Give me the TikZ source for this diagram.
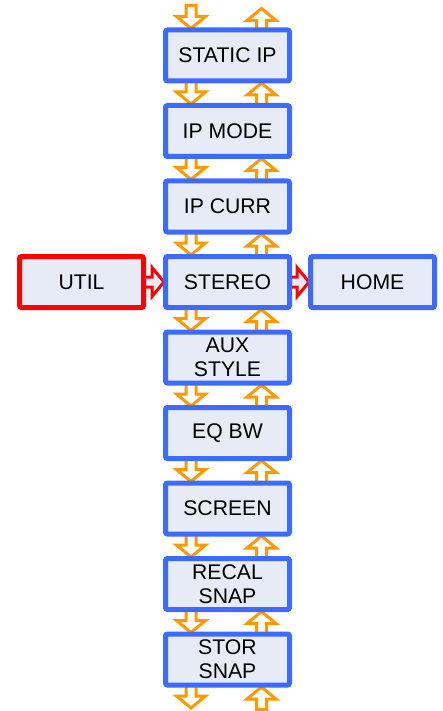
\documentclass[tikz,border=0pt]{standalone}
\usepackage{fontspec}
\setmainfont{Liberation Sans}
\usetikzlibrary{calc,backgrounds}
\definecolor{boxblue}{HTML}{3D6BFF}
\definecolor{boxfill}{HTML}{E6EBF6}
\definecolor{arrorange}{HTML}{FF9900}
\definecolor{arrred}{HTML}{FF0000}
\tikzset{
  box/.style={draw=boxblue, fill=boxfill, line width=5pt, rounded corners=2pt,
    minimum width=124pt, minimum height=51pt, align=center, inner sep=0pt,
    font=\fontsize{21.2}{24}\selectfont},
  redbox/.style={box, draw=arrred},
  blockarr/.style={line width=3pt, line join=miter, to path={
    ($(\tikztostart)!5pt!90:(\tikztotarget)$) --
    ($(\tikztotarget)!12pt!(\tikztostart)!5pt!90:(\tikztotarget)$) --
    ($(\tikztotarget)!12pt!(\tikztostart)!14.5pt!90:(\tikztotarget)$) --
    (\tikztotarget) --
    ($(\tikztotarget)!12pt!(\tikztostart)!14.5pt!-90:(\tikztotarget)$) --
    ($(\tikztotarget)!12pt!(\tikztostart)!5pt!-90:(\tikztotarget)$) --
    ($(\tikztostart)!5pt!-90:(\tikztotarget)$) -- cycle}},
  orangearr/.style={blockarr, draw=arrorange, fill=white},
  redarr/.style={blockarr, draw=arrred, fill=boxfill}
}
\begin{document}
\begin{tikzpicture}[x=1pt,y=-1pt]
\useasboundingbox (0,0) rectangle (443,711);
\node[box] (b1) at (227.5,55.5) {STATIC IP};
\node[box] (b2) at (227.5,131) {IP MODE};
\node[box] (b3) at (227.5,206.5) {IP CURR};
\node[box] (b4) at (227.5,282) {STEREO};
\node[box] (b5) at (227.5,357.5) {AUX\\STYLE};
\node[box] (b6) at (227.5,433) {EQ BW};
\node[box] (b7) at (227.5,508.5) {SCREEN};
\node[box] (b8) at (227.5,584) {RECAL\\SNAP};
\node[box] (b9) at (227.5,659.5) {STOR\\SNAP};
\node[redbox] (util) at (81.5,282) {UTIL};
\node[box] (home) at (372.5,282) {HOME};
% top and bottom free ends
\coordinate (dtop) at (191,5.5);
\coordinate (utop) at (261.5,8.5);
\coordinate (dbot) at (191,708);
\coordinate (ubot) at (261.5,709.5);
\begin{scope}[on background layer]
  \coordinate (dt0) at ($(b1.north)+(-36.5,1)$);
  \coordinate (ut0) at ($(b1.north)+(34,3)$);
  \draw[orangearr] (dtop) to (dt0);
  \draw[orangearr] (ut0) to (utop);
  \foreach \a/\b in {b1/b2,b2/b3,b3/b4,b4/b5,b5/b6,b6/b7,b7/b8,b8/b9}{
    \coordinate (ds) at ($(\a.south)+(-36.5,-3)$);
    \coordinate (dt) at ($(\b.north)+(-36.5,1)$);
    \coordinate (us) at ($(\b.north)+(34,3)$);
    \coordinate (ut) at ($(\a.south)+(34,-0.5)$);
    \draw[orangearr] (ds) to (dt);
    \draw[orangearr] (us) to (ut);
  }
  \coordinate (db0) at ($(b9.south)+(-36.5,-3)$);
  \coordinate (ub0) at ($(b9.south)+(34,-0.5)$);
  \draw[orangearr] (db0) to (dbot);
  \draw[orangearr] (ubot) to (ub0);
  \coordinate (ue) at ($(util.east)+(-3,0)$);
  \coordinate (sw) at ($(b4.west)+(1,0)$);
  \coordinate (se) at ($(b4.east)+(-3,0)$);
  \coordinate (hw) at ($(home.west)+(1,0)$);
  \draw[redarr] (ue) to (sw);
  \draw[redarr] (se) to (hw);
\end{scope}
\end{tikzpicture}
\end{document}
